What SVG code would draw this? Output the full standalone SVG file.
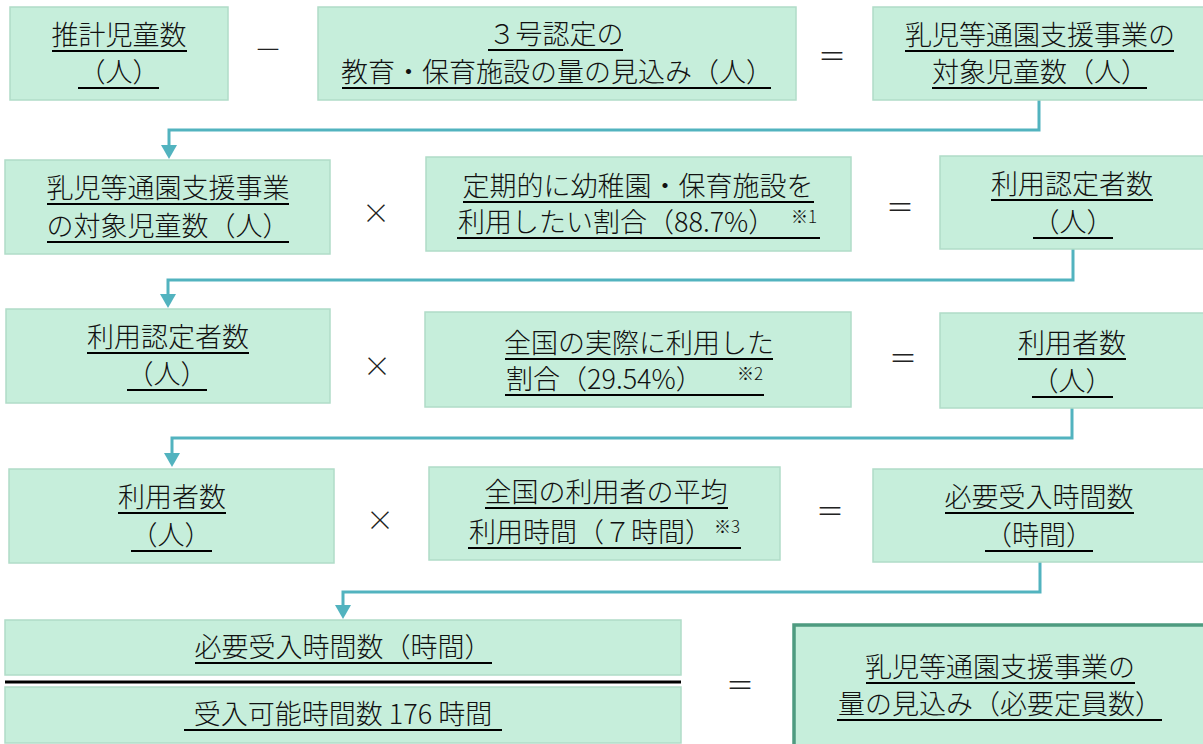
<svg xmlns="http://www.w3.org/2000/svg" width="1203" height="744" viewBox="0 0 1203 744">
<style>
.box{fill:#c6eedb;stroke:#b0dcc8;stroke-width:1.5}
.fin{fill:#c6eedb;stroke:#4e9b80;stroke-width:3.5}
.t{font-family:"Noto Sans CJK JP","Noto Sans",sans-serif;font-size:27px;fill:#111;text-anchor:middle;font-weight:300}
.s{text-anchor:start}
.sup{font-size:17px}
.op{font-family:"Noto Sans CJK JP","Noto Sans",sans-serif;font-size:28px;fill:#222;text-anchor:middle;font-weight:300}
.ul{stroke:#000;stroke-width:2}
.con{fill:none;stroke:#52b3bf;stroke-width:3;marker-end:url(#ah)}
</style>
<defs>
<marker id="ah" viewBox="0 0 14 16" markerWidth="14" markerHeight="16" markerUnits="userSpaceOnUse" refX="4" refY="8" orient="auto">
<path d="M0,0 L14,8 L0,16 Z" fill="#52b3bf"/>
</marker>
</defs>
<g id="connectors">
<path class="con" d="M1039,100 V130 H169 V149"/>
<path class="con" d="M1073,249 V280 H168 V298"/>
<path class="con" d="M1072,408 V438 H172 V457"/>
<path class="con" d="M1040,562 V592 H343 V609"/>
</g>
<g id="operators">
<text class="op" x="268" y="60">－</text>
<text class="op" x="832" y="67">＝</text>
<text class="op" x="376" y="224">×</text>
<text class="op" x="900" y="218">＝</text>
<text class="op" x="377" y="377">×</text>
<text class="op" x="903" y="369">＝</text>
<text class="op" x="380" y="531">×</text>
<text class="op" x="830" y="522">＝</text>
<text class="op" x="740" y="696">＝</text>
</g>
<g id="nodeA">
<rect class="box" x="10" y="7" width="218" height="93"/>
<text class="t" x="119" y="45">推計児童数</text>
<text class="t" x="119" y="82">（人）</text>
<line class="ul" x1="52" y1="51" x2="187" y2="51"/>
<line class="ul" x1="78" y1="88" x2="159" y2="88"/>
</g>
<g id="nodeB">
<rect class="box" x="318" y="7" width="478" height="93"/>
<text class="t" x="556" y="44">３号認定の</text>
<text class="t" x="557" y="82">教育・保育施設の量の見込み（人）</text>
<line class="ul" x1="488" y1="50" x2="623" y2="50"/>
<line class="ul" x1="342" y1="88" x2="771" y2="88"/>
</g>
<g id="nodeC">
<rect class="box" x="873" y="7" width="332" height="93"/>
<text class="t" x="1040" y="45">乳児等通園支援事業の</text>
<text class="t" x="1040" y="82">対象児童数（人）</text>
<line class="ul" x1="905" y1="51" x2="1174" y2="51"/>
<line class="ul" x1="932" y1="88" x2="1147" y2="88"/>
</g>
<g id="nodeD">
<rect class="box" x="5" y="160" width="325" height="94"/>
<text class="t" x="168" y="198">乳児等通園支援事業</text>
<text class="t" x="168" y="236">の対象児童数（人）</text>
<line class="ul" x1="47" y1="204" x2="289" y2="204"/>
<line class="ul" x1="47" y1="242" x2="289" y2="242"/>
</g>
<g id="nodeE">
<rect class="box" x="426" y="157" width="425" height="94"/>
<text class="t" x="638" y="196">定期的に幼稚園・保育施設を</text>
<text class="t s" x="458" y="232">利用したい割合（88.7%）<tspan class="sup" x="791" y="223">※1</tspan></text>
<line class="ul" x1="463" y1="202" x2="814" y2="202"/>
<line class="ul" x1="457" y1="238" x2="820" y2="238"/>
</g>
<g id="nodeF">
<rect class="box" x="940" y="156" width="265" height="93"/>
<text class="t" x="1072" y="194">利用認定者数</text>
<text class="t" x="1073" y="232">（人）</text>
<line class="ul" x1="991" y1="200" x2="1153" y2="200"/>
<line class="ul" x1="1033" y1="238" x2="1113" y2="238"/>
</g>
<g id="nodeG">
<rect class="box" x="6" y="309" width="324" height="94"/>
<text class="t" x="168" y="347">利用認定者数</text>
<text class="t" x="167" y="384">（人）</text>
<line class="ul" x1="87" y1="353" x2="249" y2="353"/>
<line class="ul" x1="127" y1="390" x2="207" y2="390"/>
</g>
<g id="nodeH">
<rect class="box" x="425" y="312" width="426" height="95"/>
<text class="t" x="639" y="353">全国の実際に利用した</text>
<text class="t s" x="506" y="389">割合（29.54%）<tspan class="sup" x="737" y="380">※2</tspan></text>
<line class="ul" x1="505" y1="359" x2="773" y2="359"/>
<line class="ul" x1="505" y1="395" x2="764" y2="395"/>
</g>
<g id="nodeI">
<rect class="box" x="940" y="313" width="265" height="95"/>
<text class="t" x="1072" y="353">利用者数</text>
<text class="t" x="1072" y="391">（人）</text>
<line class="ul" x1="1018" y1="359" x2="1126" y2="359"/>
<line class="ul" x1="1032" y1="397" x2="1113" y2="397"/>
</g>
<g id="nodeJ">
<rect class="box" x="9" y="469" width="325" height="94"/>
<text class="t" x="172" y="507">利用者数</text>
<text class="t" x="171" y="545">（人）</text>
<line class="ul" x1="118" y1="513" x2="226" y2="513"/>
<line class="ul" x1="131" y1="551" x2="212" y2="551"/>
</g>
<g id="nodeK">
<rect class="box" x="429" y="467" width="351" height="93"/>
<text class="t" x="606" y="502">全国の利用者の平均</text>
<text class="t s" x="469" y="542">利用時間（７時間）<tspan class="sup" x="714" y="533">※3</tspan></text>
<line class="ul" x1="485" y1="508" x2="728" y2="508"/>
<line class="ul" x1="468" y1="548" x2="741" y2="548"/>
</g>
<g id="nodeL">
<rect class="box" x="873" y="469" width="332" height="93"/>
<text class="t" x="1039" y="507">必要受入時間数</text>
<text class="t" x="1039" y="545">（時間）</text>
<line class="ul" x1="945" y1="513" x2="1134" y2="513"/>
<line class="ul" x1="985" y1="551" x2="1093" y2="551"/>
</g>
<g id="nodeM">
<rect class="box" x="5" y="620" width="676" height="55"/>
<text class="t" x="343" y="657">必要受入時間数（時間）</text>
<line class="ul" x1="195" y1="663" x2="492" y2="663"/>
</g>
<line id="fraction" x1="5" y1="682" x2="681" y2="682" stroke="#000" stroke-width="3"/>
<g id="nodeN">
<rect class="box" x="5" y="687" width="676" height="56"/>
<text class="t" x="343" y="724">受入可能時間数 176 時間</text>
<line class="ul" x1="184" y1="730" x2="502" y2="730"/>
</g>
<g id="nodeO">
<rect class="fin" x="794" y="625" width="420" height="130"/>
<text class="t" x="1000" y="677">乳児等通園支援事業の</text>
<text class="t" x="1000" y="714">量の見込み（必要定員数）</text>
<line class="ul" x1="866" y1="683" x2="1135" y2="683"/>
<line class="ul" x1="837" y1="720" x2="1162" y2="720"/>
</g>
</svg>
